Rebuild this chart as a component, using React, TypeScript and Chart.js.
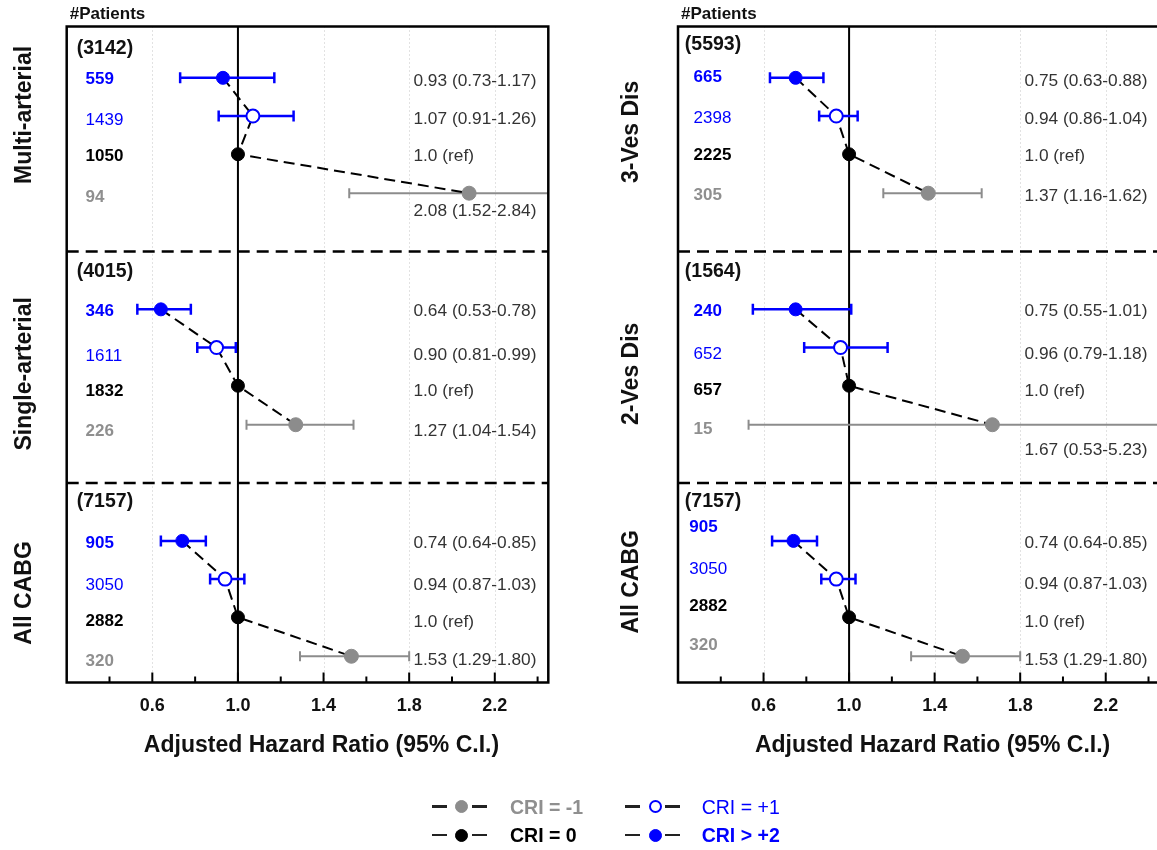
import React, { useEffect, useRef } from "react";
import { Chart, registerables } from "chart.js";
Chart.register(...registerables);

// ---------------- DATA ----------------
const categories = ["CRI > +2", "CRI = +1", "CRI = 0", "CRI = -1"];

const leftGroups = ["Multi-arterial", "Single-arterial", "All CABG"];
const leftTotals = [3142, 4015, 7157];
const leftCounts = [[559, 1439, 1050, 94], [346, 1611, 1832, 226], [905, 3050, 2882, 320]];
const leftHR = [[0.93, 1.07, 1.0, 2.08], [0.64, 0.9, 1.0, 1.27], [0.74, 0.94, 1.0, 1.53]];
const leftLower = [[0.73, 0.91, null, 1.52], [0.53, 0.81, null, 1.04], [0.64, 0.87, null, 1.29]];
const leftUpper = [[1.17, 1.26, null, 2.84], [0.78, 0.99, null, 1.54], [0.85, 1.03, null, 1.8]];

const rightGroups = ["3-Ves Dis", "2-Ves Dis", "All CABG"];
const rightTotals = [5593, 1564, 7157];
const rightCounts = [[665, 2398, 2225, 305], [240, 652, 657, 15], [905, 3050, 2882, 320]];
const rightHR = [[0.75, 0.94, 1.0, 1.37], [0.75, 0.96, 1.0, 1.67], [0.74, 0.94, 1.0, 1.53]];
const rightLower = [[0.63, 0.86, null, 1.16], [0.55, 0.79, null, 0.53], [0.64, 0.87, null, 1.29]];
const rightUpper = [[0.88, 1.04, null, 1.62], [1.01, 1.18, null, 5.23], [0.85, 1.03, null, 1.8]];

const majorTicks = [0.6, 1.0, 1.4, 1.8, 2.2];
const tickLabels = ["0.6", "1.0", "1.4", "1.8", "2.2"];
const minorTicks = [0.4, 0.8, 1.2, 1.6, 2.0, 2.4];
const gridValues = [0.6, 1.4, 1.8, 2.2];
const refHR = 1.0;
const xTitle = "Adjusted Hazard Ratio (95% C.I.)";
const headerLabel = "#Patients";

// ---------------- STYLE / LAYOUT ----------------
const FONT = '"Liberation Sans", Arial, Helvetica, sans-serif';
const BLUE = "#0000ff";
const GRAY = "#8c8c8c";
const catColor = [BLUE, BLUE, "#000000", GRAY];
const catFill = [BLUE, "#ffffff", "#000000", GRAY];
const catBold = [true, false, true, true];
const capRadius = [5.5, 5.5, 5, 5];

const X_MIN = 0.2;
const X_MAX = 2.45;
const Y_MAX = 17;
const SECTION_BASE = [0, 6, 12];
const ROW_OFF = [1.33, 2.32, 3.31, 4.32];
const SEPARATORS = [5.83, 11.83];
const HR_TEXT_X = 1.82;
const CANVAS_H = 850;
const PLOT_TOP = 26.5;
const PLOT_BOTTOM = 682.5;

type Layout = {
  canvasLeft: number;
  canvasWidth: number;
  padLeft: number;
  padRight: number;
  headerX: number;
  countX: number[];
  headerOff: number[];
  countOff: number[][];
  hrOff: number[][];
  groupY: number[];
  groupDx: number;
};

const leftLayout: Layout = {
  canvasLeft: 0,
  canvasWidth: 600,
  padLeft: 66.7,
  padRight: 600 - 548.3,
  headerX: 0.247,
  countX: [0.288, 0.288, 0.288],
  headerOff: [0.565, 0.34, 0.31],
  countOff: [[1.37, 2.44, 3.37, 4.43], [1.39, 2.54, 3.46, 4.5], [1.39, 2.47, 3.42, 4.44]],
  hrOff: [[1.43, 2.4, 3.37, 4.8], [1.39, 2.51, 3.46, 4.5], [1.39, 2.47, 3.45, 4.42]],
  groupY: [2.29, 9.0, 14.68],
  groupDx: 42,
};

const rightLayout: Layout = {
  canvasLeft: 600,
  canvasWidth: 600,
  padLeft: 78,
  padRight: 600 - 559.2,
  headerX: 0.232,
  countX: [0.273, 0.273, 0.253],
  headerOff: [0.48, 0.35, 0.31],
  countOff: [[1.32, 2.38, 3.35, 4.37], [1.37, 2.49, 3.42, 4.44], [0.99, 2.07, 3.02, 4.03]],
  hrOff: [[1.43, 2.4, 3.37, 4.41], [1.39, 2.49, 3.46, 4.99], [1.39, 2.45, 3.45, 4.42]],
  groupY: [2.73, 9.0, 14.39],
  groupDx: 46,
};

type PanelData = {
  groups: string[];
  totals: number[];
  counts: number[][];
  hr: number[][];
  lower: (number | null)[][];
  upper: (number | null)[][];
};

function hrText(hr: number, lo: number | null, hi: number | null) {
  if (lo === null || hi === null) return hr.toFixed(1) + " (ref)";
  return `${hr.toFixed(2)} (${lo.toFixed(2)}-${hi.toFixed(2)})`;
}

function buildDatasets(d: PanelData) {
  const ds: any[] = [];
  // markers (on top)
  categories.forEach((cat, c) => {
    ds.push({
      label: cat,
      data: SECTION_BASE.map((b, s) => ({ x: d.hr[s][c], y: b + ROW_OFF[c] })),
      showLine: false,
      pointRadius: c === 3 ? 7 : 6.5,
      pointBackgroundColor: catFill[c],
      pointBorderColor: catColor[c],
      pointBorderWidth: c === 1 ? 2 : 1,
      order: 0,
    });
  });
  // connecting dashed lines
  SECTION_BASE.forEach((b, s) => {
    ds.push({
      label: "trend" + s,
      data: categories.map((_, c) => ({ x: d.hr[s][c], y: b + ROW_OFF[c] })),
      showLine: true,
      borderColor: "#000000",
      borderWidth: 2,
      borderDash: [11, 6],
      pointRadius: 0,
      fill: false,
      order: 1,
    });
  });
  // error bars
  SECTION_BASE.forEach((b, s) => {
    categories.forEach((_, c) => {
      const lo = d.lower[s][c];
      const hi = d.upper[s][c];
      if (lo === null || hi === null) return;
      const y = b + ROW_OFF[c];
      ds.push({
        label: "ci" + s + c,
        data: [{ x: lo, y }, { x: hi, y }],
        showLine: true,
        borderColor: catColor[c],
        borderWidth: c === 3 ? 2 : 2.5,
        pointStyle: "line",
        rotation: 90,
        pointRadius: capRadius[c],
        pointBorderColor: catColor[c],
        pointBorderWidth: c === 3 ? 2 : 2.5,
        fill: false,
        order: 2,
      });
    });
  });
  return ds;
}

function makePlugin(d: PanelData, L: Layout) {
  return {
    id: "forestDecor",
    beforeDatasetsDraw(chart: any) {
      const { ctx, chartArea: a } = chart;
      const x = chart.scales.x;
      const y = chart.scales.y;
      ctx.save();
      ctx.strokeStyle = "#c4c4c4";
      ctx.lineWidth = 1;
      ctx.setLineDash([1, 3]);
      gridValues.forEach((v) => {
        const px = Math.round(x.getPixelForValue(v)) + 0.5;
        ctx.beginPath();
        ctx.moveTo(px, a.top);
        ctx.lineTo(px, a.bottom);
        ctx.stroke();
      });
      ctx.setLineDash([]);
      ctx.strokeStyle = "#000";
      ctx.lineWidth = 2;
      const rx = x.getPixelForValue(refHR);
      ctx.beginPath();
      ctx.moveTo(rx, a.top);
      ctx.lineTo(rx, a.bottom);
      ctx.stroke();
      ctx.setLineDash([12, 7]);
      ctx.lineWidth = 2.5;
      SEPARATORS.forEach((v) => {
        const py = y.getPixelForValue(v);
        ctx.beginPath();
        ctx.moveTo(a.left, py);
        ctx.lineTo(a.right, py);
        ctx.stroke();
      });
      ctx.restore();
    },
    afterDatasetsDraw(chart: any) {
      const { ctx, chartArea: a } = chart;
      const x = chart.scales.x;
      ctx.save();
      ctx.strokeStyle = "#000";
      ctx.lineWidth = 2;
      majorTicks.forEach((v) => {
        const px = x.getPixelForValue(v);
        ctx.beginPath();
        ctx.moveTo(px, a.bottom);
        ctx.lineTo(px, a.bottom - 10);
        ctx.stroke();
      });
      minorTicks.forEach((v) => {
        const px = x.getPixelForValue(v);
        ctx.beginPath();
        ctx.moveTo(px, a.bottom);
        ctx.lineTo(px, a.bottom - 6);
        ctx.stroke();
      });
      ctx.lineWidth = 2.5;
      ctx.strokeRect(a.left, a.top, a.right - a.left, a.bottom - a.top);
      ctx.restore();
    },
    afterDraw(chart: any) {
      const { ctx, chartArea: a } = chart;
      const x = chart.scales.x;
      const y = chart.scales.y;
      ctx.save();
      ctx.textBaseline = "middle";
      ctx.textAlign = "left";
      // header
      ctx.fillStyle = "#111";
      ctx.font = `bold 17px ${FONT}`;
      ctx.fillText(headerLabel, a.left + 3, 14.5);
      SECTION_BASE.forEach((b, s) => {
        // totals
        ctx.fillStyle = "#111";
        ctx.font = `bold 19.5px ${FONT}`;
        ctx.fillText(`(${d.totals[s]})`, x.getPixelForValue(L.headerX), y.getPixelForValue(b + L.headerOff[s]));
        categories.forEach((_, c) => {
          ctx.fillStyle = c === 3 ? "#8f8f8f" : catColor[c];
          ctx.font = `${catBold[c] ? "bold " : ""}17px ${FONT}`;
          ctx.fillText(String(d.counts[s][c]), x.getPixelForValue(L.countX[s]), y.getPixelForValue(b + L.countOff[s][c]));
          ctx.fillStyle = "#333";
          ctx.font = `17.3px ${FONT}`;
          ctx.fillText(hrText(d.hr[s][c], d.lower[s][c], d.upper[s][c]), x.getPixelForValue(HR_TEXT_X), y.getPixelForValue(b + L.hrOff[s][c]));
        });
        // group label rotated
        ctx.save();
        ctx.translate(a.left - L.groupDx, y.getPixelForValue(L.groupY[s]));
        ctx.rotate(-Math.PI / 2);
        ctx.textAlign = "center";
        ctx.fillStyle = "#111";
        ctx.font = `bold 23px ${FONT}`;
        ctx.fillText(d.groups[s], 0, 0);
        ctx.restore();
      });
      // tick labels
      ctx.textAlign = "center";
      ctx.fillStyle = "#111";
      ctx.font = `bold 18px ${FONT}`;
      majorTicks.forEach((v, i) => {
        ctx.fillText(tickLabels[i], x.getPixelForValue(v), a.bottom + 24);
      });
      // axis title
      ctx.font = `bold 23px ${FONT}`;
      ctx.fillText(xTitle, (a.left + a.right) / 2 + 14, a.bottom + 63);
      ctx.restore();
    },
  };
}

function Panel({ data, layout }: { data: PanelData; layout: Layout }) {
  const ref = useRef<HTMLCanvasElement | null>(null);
  useEffect(() => {
    if (!ref.current) return;
    const chart = new Chart(ref.current, {
      type: "scatter",
      data: { datasets: buildDatasets(data) },
      options: {
        animation: false,
        responsive: false,
        maintainAspectRatio: false,
        events: [],
        layout: {
          padding: {
            left: layout.padLeft,
            right: layout.padRight,
            top: PLOT_TOP,
            bottom: CANVAS_H - PLOT_BOTTOM,
          },
        },
        scales: {
          x: { type: "linear", min: X_MIN, max: X_MAX, display: false },
          y: { type: "linear", min: 0, max: Y_MAX, reverse: true, display: false },
        },
        plugins: { legend: { display: false }, tooltip: { enabled: false } },
      } as any,
      plugins: [makePlugin(data, layout) as any],
    });
    return () => chart.destroy();
  }, []);
  return (
    <canvas
      ref={ref}
      width={layout.canvasWidth}
      height={CANVAS_H}
      style={{
        position: "absolute",
        left: layout.canvasLeft,
        top: 0,
        width: layout.canvasWidth,
        height: CANVAS_H,
      }}
    />
  );
}

// legend placement (pixels) for each category: [marker center x, row center y, text x]
const legendPos = [
  { cx: 655, cy: 835, tx: 701.7 },
  { cx: 655, cy: 806.7, tx: 701.7 },
  { cx: 461.7, cy: 835, tx: 510 },
  { cx: 461.7, cy: 806.7, tx: 510 },
];

function Legend() {
  const els: any[] = [];
  categories.forEach((cat, c) => {
    const p = legendPos[c];
    const r = 6.5;
    els.push(
      <div key={"dl" + c} style={{ position: "absolute", left: p.cx - 30, top: p.cy - 1.25, width: 15, height: 2.5, background: "#222" }} />,
      <div key={"dr" + c} style={{ position: "absolute", left: p.cx + 10, top: p.cy - 1.25, width: 15, height: 2.5, background: "#222" }} />,
      <div
        key={"m" + c}
        style={{
          position: "absolute",
          left: p.cx - r,
          top: p.cy - r,
          width: 2 * r,
          height: 2 * r,
          borderRadius: "50%",
          boxSizing: "border-box",
          background: catFill[c],
          border: `${c === 1 ? 2 : 1}px solid ${catColor[c]}`,
        }}
      />,
      <div
        key={"t" + c}
        style={{
          position: "absolute",
          left: p.tx,
          top: p.cy - 11,
          height: 22,
          lineHeight: "22px",
          font: `${catBold[c] ? "bold " : ""}19.5px ${FONT}`,
          color: c === 3 ? "#8f8f8f" : catColor[c],
          whiteSpace: "nowrap",
        }}
      >
        {cat}
      </div>
    );
  });
  return <>{els}</>;
}

export default function App() {
  const left: PanelData = { groups: leftGroups, totals: leftTotals, counts: leftCounts, hr: leftHR, lower: leftLower, upper: leftUpper };
  const right: PanelData = { groups: rightGroups, totals: rightTotals, counts: rightCounts, hr: rightHR, lower: rightLower, upper: rightUpper };
  return (
    <div style={{ position: "fixed", left: 0, top: 0, width: 1157, height: 850, overflow: "hidden", background: "#fff" }}>
      <Panel data={left} layout={leftLayout} />
      <Panel data={right} layout={rightLayout} />
      <Legend />
    </div>
  );
}
